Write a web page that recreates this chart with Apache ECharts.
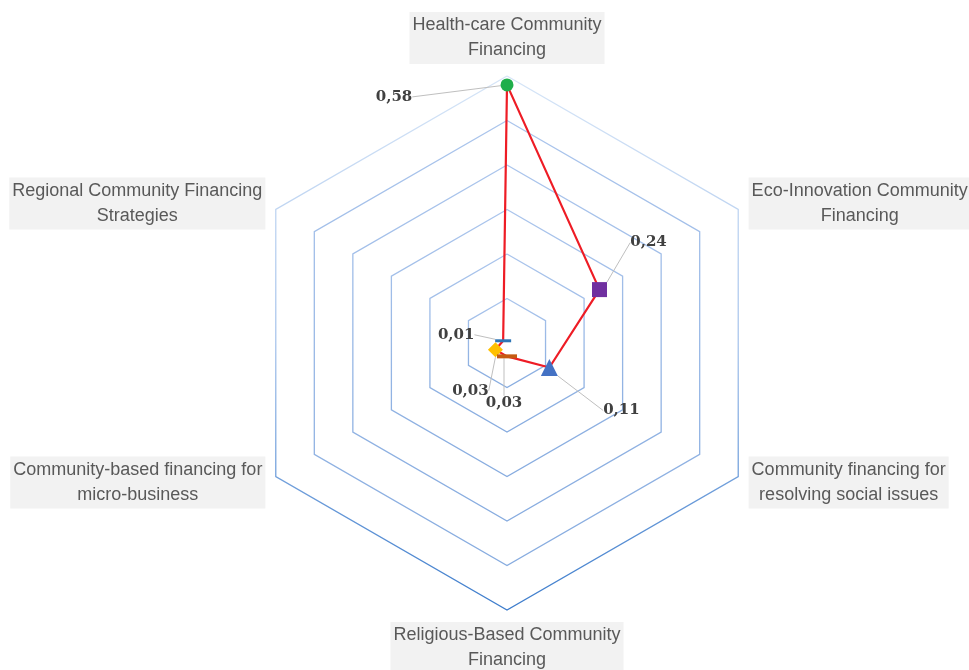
<!DOCTYPE html>
<html>
<head>
<meta charset="utf-8">
<script src="https://cdn.jsdelivr.net/npm/echarts@6/dist/echarts.min.js"></script>
<style>
  html, body { margin: 0; background: #fff; }
  #chart { width: 969px; height: 670px; }
</style>
</head>
<body>
<div id="chart"></div>
<script>
// indicators, counter-clockwise from the top (echarts radar order)
const axisNames = [
  'Health-care Community\nFinancing',
  'Regional Community Financing\nStrategies',
  'Community-based financing for\nmicro-business',
  'Religious-Based Community\nFinancing',
  'Community financing for\nresolving social issues',
  'Eco-Innovation Community\nFinancing'
]
const shares = [0.58, 0.01, 0.03, 0.03, 0.11, 0.24]
const scaleMax = 0.6
const ringCount = 6

// marker look per indicator
const markerSymbols = ['circle', 'rect', 'diamond', 'rect', 'triangle', 'rect']
const markerColors = ['#1fae4b', '#2e75b6', '#ffc000', '#c55a11', '#4472c4', '#7030a0']
const markerSizes = [13, [16, 3], 15, [20, 4], 17, 15]
// where the value labels sit, relative to their marker
const labelShift = [[-113, 12], [-47, -6], [-25, 41], [-3, 47], [72, 43], [49, -47]]

const CENTER = [507, 343]
const RADIUS = 267

const chart = echarts.init(document.getElementById('chart'), null, { renderer: 'canvas' })

const innerRing = {
  type: 'linear', x: 0, y: 0, x2: 0, y2: 1,
  colorStops: [{ offset: 0, color: '#abc5ec' }, { offset: 1, color: '#86abdf' }]
}
const outerRing = {
  type: 'linear', x: 0, y: 0, x2: 0, y2: 1,
  colorStops: [{ offset: 0, color: '#d6e5f7' }, { offset: 0.5, color: '#a9c5ec' }, { offset: 1, color: '#3b7bcb' }]
}

chart.setOption({
  backgroundColor: '#fff',
  animation: false,
  radar: {
    center: CENTER,
    radius: RADIUS,
    startAngle: 90,
    shape: 'polygon',
    splitNumber: ringCount,
    nameGap: 12,
    indicator: axisNames.map(n => ({ name: n, min: 0, max: scaleMax })),
    axisName: {
      formatter: n => n.split('\n').map(s => '{c|' + s + '}').join('\n'),
      backgroundColor: '#f2f2f2',
      padding: [1, 3],
      rich: {
        c: { align: 'center', color: '#595959', fontFamily: 'Liberation Sans', fontSize: 18, lineHeight: 25 }
      }
    },
    axisLine: { show: false },
    axisTick: { show: false },
    axisLabel: { show: false },
    splitArea: { show: false },
    splitLine: {
      lineStyle: {
        width: 1.3,
        color: [innerRing, innerRing, innerRing, innerRing, innerRing, innerRing, outerRing]
      }
    }
  },
  polar: { center: CENTER, radius: RADIUS },
  angleAxis: {
    type: 'category',
    data: axisNames,
    startAngle: 90,
    clockwise: false,
    boundaryGap: false,
    show: false
  },
  radiusAxis: { type: 'value', min: 0, max: scaleMax, show: false },
  series: [
    {
      type: 'radar',
      symbol: 'none',
      z: 3,
      lineStyle: { color: '#ee1c25', width: 2.2 },
      data: [{ value: shares }]
    },
    {
      type: 'scatter',
      coordinateSystem: 'polar',
      z: 5,
      data: shares.map((v, i) => ({
        value: [v, i],
        symbol: markerSymbols[i],
        symbolSize: markerSizes[i],
        itemStyle: { color: markerColors[i], opacity: 1 }
      })),
      label: {
        show: true,
        position: 'inside',
        formatter: p => p.value[0].toFixed(2).replace('.', ','),
        fontFamily: 'DejaVu Serif',
        fontWeight: 'bold',
        fontSize: 15,
        color: '#404040'
      },
      labelLine: { show: true, lineStyle: { color: '#bfbfbf', width: 1 } },
      labelLayout: p => ({ dx: labelShift[p.dataIndex][0], dy: labelShift[p.dataIndex][1] })
    }
  ]
})
</script>
</body>
</html>
